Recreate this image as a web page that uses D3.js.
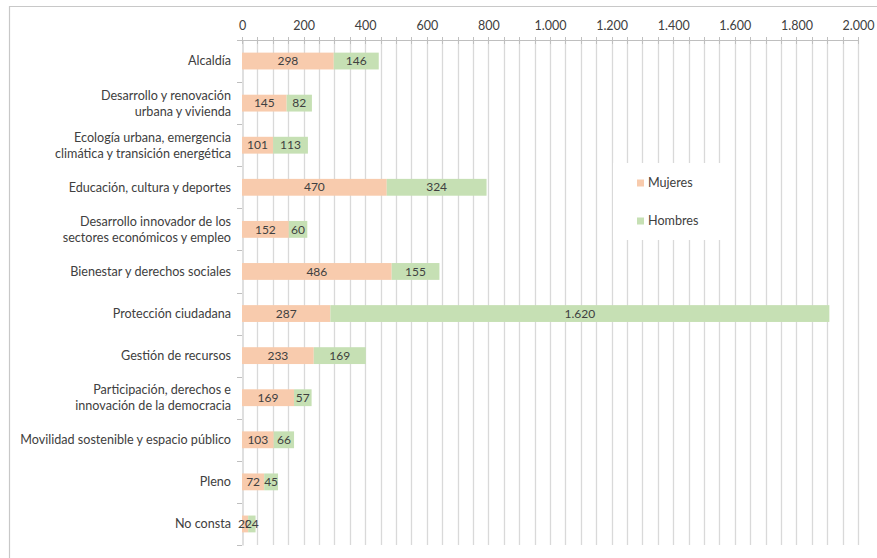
<!DOCTYPE html>
<html>
<head>
<meta charset="utf-8">
<script src="https://cdn.jsdelivr.net/npm/d3@7"></script>
<style>
  html, body { margin: 0; padding: 0; background: #fff; }
  svg { display: block; font-family: Lato, "Open Sans", sans-serif; }
</style>
</head>
<body>
<svg id="chart" width="877" height="558"></svg>
<script>
// Áreas de gobierno (etiquetas partidas en líneas)
const categories = [
  ["Alcaldía"],
  ["Desarrollo y renovación", "urbana y vivienda"],
  ["Ecología urbana, emergencia", "climática y transición energética"],
  ["Educación, cultura y deportes"],
  ["Desarrollo innovador de los", "sectores económicos y empleo"],
  ["Bienestar y derechos sociales"],
  ["Protección ciudadana"],
  ["Gestión de recursos"],
  ["Participación, derechos e", "innovación de la democracia"],
  ["Movilidad sostenible y espacio público"],
  ["Pleno"],
  ["No consta"]
];
const mujeres = [298, 145, 101, 470, 152, 486, 287, 233, 169, 103, 72, 20];
const hombres = [146, 82, 113, 324, 60, 155, 1620, 169, 57, 66, 45, 24];
const seriesNames = ["Mujeres", "Hombres"];
const tickValues = [0, 200, 400, 600, 800, 1000, 1200, 1400, 1600, 1800, 2000];

const colors = { Mujeres: "#f8cbad", Hombres: "#c6e0b4" };
const textColor = "#404040";

const locale = d3.formatLocale({ decimal: ",", thousands: ".", grouping: [3], currency: ["", " €"] });
const fmt = locale.format(",d");

const svg = d3.select("#chart");
const keys = categories.map(c => c.join(" "));

const x = d3.scaleLinear().domain([0, 2000]).range([242, 858]);
const y = d3.scaleBand().domain(keys).range([40, 545]).paddingInner(0.6).paddingOuter(0.3);

// marco exterior
svg.append("path")
  .attr("d", "M9.5,560 V6.5 H880")
  .attr("fill", "none").attr("stroke", "#c8c8c8").attr("stroke-width", 1.2);

// líneas de división verticales cada 50
const gridVals = d3.range(50, 2001, 50);
svg.append("g").selectAll("line").data(gridVals).join("line")
  .attr("x1", d => Math.round(x(d)) + 0.5).attr("x2", d => Math.round(x(d)) + 0.5)
  .attr("y1", 40).attr("y2", 545)
  .attr("stroke", "#d9d9d9").attr("stroke-width", 1.3);

// eje superior
const xAxis = d3.axisTop(x).tickValues(tickValues).tickFormat(fmt).tickSize(0).tickPadding(10);
const gx = svg.append("g").attr("transform", "translate(0,40)").call(xAxis);
gx.select(".domain").attr("stroke", "#bfbfbf");
gx.selectAll("text").attr("fill", textColor).attr("font-size", 12.5)
  .attr("font-family", "Lato, 'Open Sans', sans-serif");
svg.append("g").selectAll("line").data(d3.range(0, 2001, 50)).join("line")
  .attr("x1", d => Math.round(x(d)) + 0.5).attr("x2", d => Math.round(x(d)) + 0.5)
  .attr("y1", 37).attr("y2", 44)
  .attr("stroke", "#bfbfbf").attr("stroke-width", 1);

// eje de categorías
const yAxis = d3.axisLeft(y).tickSize(0).tickFormat("");
const gy = svg.append("g").attr("transform", "translate(242.5,0)").call(yAxis);
gy.select(".domain").attr("stroke", "#bfbfbf");
const step = y.step();
const boundaries = d3.range(0, keys.length + 1).map(i => 40 + i * step);
svg.append("g").selectAll("line").data(boundaries).join("line")
  .attr("x1", 237).attr("x2", 242)
  .attr("y1", d => Math.round(d) + 0.5).attr("y2", d => Math.round(d) + 0.5)
  .attr("stroke", "#bfbfbf");

// etiquetas de categorías
const lineH = 16;
const lab = svg.append("g");
categories.forEach((lines, i) => {
  const cy = y(keys[i]) + y.bandwidth() / 2;
  const t = lab.append("text")
    .attr("text-anchor", "end")
    .attr("fill", textColor).attr("font-size", 12.6);
  lines.forEach((ln, j) => {
    t.append("tspan")
      .attr("x", 231)
      .attr("y", cy + (j - (lines.length - 1) / 2) * lineH)
      .attr("dy", "0.35em")
      .text(ln);
  });
});

// barras apiladas
const stackData = keys.map((k, i) => ({ key: k, Mujeres: mujeres[i], Hombres: hombres[i] }));
const stack = d3.stack().keys(seriesNames)(stackData);

const layers = svg.append("g").selectAll("g").data(stack).join("g")
  .attr("fill", d => colors[d.key]);
layers.selectAll("rect").data(d => d).join("rect")
  .attr("x", d => x(d[0]))
  .attr("width", d => x(d[1]) - x(d[0]))
  .attr("y", d => y(d.data.key))
  .attr("height", y.bandwidth());

// etiquetas de valor
layers.selectAll("text").data(d => d).join("text")
  .attr("x", d => (x(d[0]) + x(d[1])) / 2)
  .attr("y", d => y(d.data.key) + y.bandwidth() / 2)
  .attr("dy", "0.35em")
  .attr("text-anchor", "middle")
  .attr("fill", textColor).attr("font-size", 12)
  .text(d => fmt(d[1] - d[0]));

// leyenda
const leg = svg.append("g");
leg.append("rect").attr("x", 613).attr("y", 163).attr("width", 119).attr("height", 77).attr("fill", "#fff");
seriesNames.forEach((name, i) => {
  const ly = 183 + i * 38;
  leg.append("rect").attr("x", 637).attr("y", ly - 3.5).attr("width", 7).attr("height", 7)
    .attr("fill", colors[name]);
  leg.append("text").attr("x", 648).attr("y", ly).attr("dy", "0.35em")
    .attr("fill", textColor).attr("font-size", 12.6).text(name);
});
</script>
</body>
</html>
